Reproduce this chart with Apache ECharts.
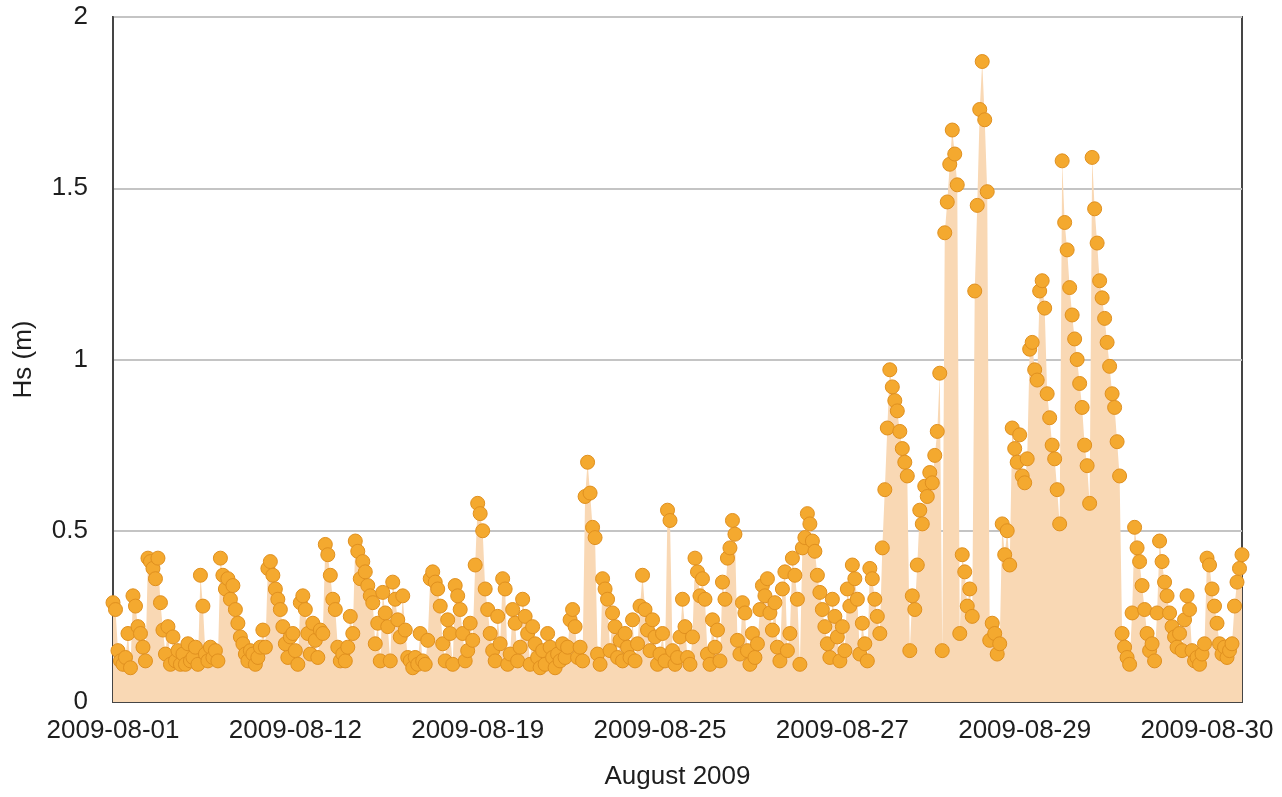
<!DOCTYPE html>
<html>
<head>
<meta charset="utf-8">
<title>Significant wave height, August 2009</title>
<script src="https://cdn.jsdelivr.net/npm/echarts@6/dist/echarts.min.js"></script>
<style>
  html, body { margin: 0; padding: 0; background: #ffffff; }
  #chart { width: 1282px; height: 797px; }
</style>
</head>
<body>
<div id="chart"></div>
<script>
// Date labels shown along the time axis (one every 73 samples)
const tickLabels = ['2009-08-01', '2009-08-12', '2009-08-19', '2009-08-25', '2009-08-27', '2009-08-29', '2009-08-30'];
const samplesPerLabel = 73;

// Significant wave height Hs (m), one value per sample
const hsValues = [
  0.29, 0.27, 0.15, 0.12, 0.11, 0.13, 0.20, 0.10, 0.31, 0.28, 0.22, 0.20,
  0.16, 0.12, 0.42, 0.41, 0.39, 0.36, 0.42, 0.29, 0.21, 0.14, 0.22, 0.11,
  0.19, 0.12, 0.15, 0.11, 0.14, 0.11, 0.17, 0.12, 0.13, 0.16, 0.11, 0.37,
  0.28, 0.14, 0.12, 0.16, 0.13, 0.15, 0.12, 0.42, 0.37, 0.33, 0.36, 0.30,
  0.34, 0.27, 0.23, 0.19, 0.17, 0.14, 0.12, 0.15, 0.14, 0.11, 0.13, 0.16,
  0.21, 0.16, 0.39, 0.41, 0.37, 0.33, 0.30, 0.27, 0.22, 0.17, 0.13, 0.19,
  0.20, 0.15, 0.11, 0.29, 0.31, 0.27, 0.20, 0.14, 0.23, 0.18, 0.13, 0.21,
  0.20, 0.46, 0.43, 0.37, 0.30, 0.27, 0.16, 0.12, 0.14, 0.12, 0.16, 0.25,
  0.20, 0.47, 0.44, 0.36, 0.41, 0.38, 0.34, 0.31, 0.29, 0.17, 0.23, 0.12,
  0.32, 0.26, 0.22, 0.12, 0.35, 0.30, 0.24, 0.19,
  0.31, 0.21, 0.13, 0.12, 0.10, 0.13, 0.11, 0.20, 0.12, 0.11, 0.18, 0.36,
  0.38, 0.35, 0.33, 0.28, 0.17, 0.12, 0.24, 0.20, 0.11, 0.34, 0.31, 0.27,
  0.20, 0.12, 0.15, 0.23, 0.18, 0.40, 0.58, 0.55, 0.50, 0.33, 0.27, 0.20,
  0.15, 0.12, 0.25, 0.17, 0.36, 0.33, 0.11, 0.14, 0.27, 0.23, 0.12, 0.16,
  0.30, 0.25, 0.20, 0.11, 0.22, 0.17, 0.13, 0.10, 0.15, 0.11, 0.20, 0.16,
  0.13, 0.10, 0.14, 0.12, 0.17, 0.13, 0.16, 0.24, 0.27, 0.22, 0.13, 0.16,
  0.12, 0.60, 0.70, 0.61, 0.51, 0.48, 0.14, 0.11, 0.36, 0.33, 0.30, 0.15,
  0.26, 0.22, 0.13, 0.18, 0.12, 0.20, 0.16, 0.13, 0.24, 0.12, 0.17, 0.28,
  0.37, 0.27, 0.21, 0.15, 0.24, 0.19, 0.11, 0.14, 0.20, 0.12, 0.56, 0.53,
  0.15, 0.11, 0.13, 0.19,
  0.30, 0.22, 0.13, 0.11, 0.19, 0.42, 0.38, 0.31, 0.36, 0.30, 0.14, 0.11,
  0.24, 0.16, 0.21, 0.12, 0.35, 0.30, 0.42, 0.45, 0.53, 0.49, 0.18, 0.14,
  0.29, 0.26, 0.15, 0.11, 0.20, 0.13, 0.17, 0.27, 0.34, 0.31, 0.36, 0.26,
  0.21, 0.29, 0.16, 0.12, 0.33, 0.38, 0.15, 0.20, 0.42, 0.37, 0.30, 0.11,
  0.45, 0.48, 0.55, 0.52, 0.47, 0.44, 0.37, 0.32, 0.27, 0.22, 0.17, 0.13,
  0.30, 0.25, 0.19, 0.12, 0.22, 0.15, 0.33, 0.28, 0.40, 0.36, 0.30, 0.14,
  0.23, 0.17, 0.12, 0.39, 0.36, 0.30, 0.25, 0.20, 0.45, 0.62, 0.80, 0.97,
  0.92, 0.88, 0.85, 0.79, 0.74, 0.70, 0.66, 0.15, 0.31, 0.27, 0.40, 0.56,
  0.52, 0.63, 0.60, 0.67, 0.64, 0.72, 0.79, 0.96, 0.15, 1.37, 1.46, 1.57,
  1.67, 1.60, 1.51, 0.20, 0.43, 0.38, 0.28, 0.33, 0.25, 1.20, 1.45, 1.73,
  1.87, 1.70, 1.49, 0.18, 0.23, 0.20, 0.14, 0.17,
  0.52, 0.43, 0.50, 0.40, 0.80, 0.74, 0.70, 0.78, 0.66, 0.64, 0.71, 1.03,
  1.05, 0.97, 0.94, 1.20, 1.23, 1.15, 0.90, 0.83, 0.75, 0.71, 0.62, 0.52,
  1.58, 1.40, 1.32, 1.21, 1.13, 1.06, 1.00, 0.93, 0.86, 0.75, 0.69, 0.58,
  1.59, 1.44, 1.34, 1.23, 1.18, 1.12, 1.05, 0.98, 0.90, 0.86, 0.76, 0.66,
  0.20, 0.16, 0.13, 0.11, 0.26, 0.51, 0.45, 0.41, 0.34, 0.27, 0.20, 0.15,
  0.17, 0.12, 0.26, 0.47, 0.41, 0.35, 0.31, 0.26, 0.22, 0.19, 0.16, 0.20,
  0.15, 0.24, 0.31, 0.27, 0.15, 0.12, 0.13, 0.11, 0.14, 0.17, 0.42, 0.40,
  0.33, 0.28, 0.23, 0.17, 0.14, 0.16, 0.13, 0.15, 0.17, 0.28, 0.35, 0.39,
  0.43
];

// Sample indices used as the category axis
const categories = hsValues.map((_, i) => String(i));

const FONT = "'Liberation Sans', Arial, Helvetica, sans-serif";
const TEXT = '#1e1e1e';

const chart = echarts.init(document.getElementById('chart'), null, { renderer: 'canvas' });

chart.setOption({
  animation: false,
  backgroundColor: '#ffffff',
  grid: {
    left: 113, right: 40, top: 17, bottom: 95,
    show: true, borderColor: '#454545', borderWidth: 2, backgroundColor: 'transparent'
  },
  xAxis: {
    type: 'category',
    data: categories,
    boundaryGap: false,
    name: 'August 2009',
    nameLocation: 'middle',
    nameGap: 62,
    nameTextStyle: { fontFamily: FONT, fontSize: 26, color: TEXT },
    axisLine: { show: true, lineStyle: { color: '#454545', width: 2 } },
    axisTick: { show: false },
    splitLine: { show: false },
    axisLabel: {
      interval: samplesPerLabel - 1,
      margin: 16,
      fontFamily: FONT, fontSize: 26, color: TEXT,
      formatter: (v, i) => tickLabels[i / samplesPerLabel] || ''
    }
  },
  yAxis: {
    type: 'value',
    min: 0, max: 2, interval: 0.5,
    name: 'Hs (m)',
    nameLocation: 'middle',
    nameRotate: 90,
    nameGap: 76,
    nameTextStyle: { fontFamily: FONT, fontSize: 26, color: TEXT },
    axisLine: { show: true, lineStyle: { color: '#454545', width: 2 } },
    axisTick: { show: false },
    splitLine: { show: true, lineStyle: { color: '#c4c4c4', width: 2 } },
    axisLabel: { margin: 25, fontFamily: FONT, fontSize: 26, color: TEXT }
  },
  series: [
    {
      type: 'line',
      data: hsValues,
      showSymbol: false,
      symbol: 'none',
      lineStyle: { width: 0, color: '#f9d8b4' },
      areaStyle: { color: '#f9d8b4', opacity: 1 },
      z: 1
    },
    {
      type: 'scatter',
      data: hsValues,
      symbol: 'circle',
      symbolSize: 14,
      itemStyle: { color: '#f4a92f', borderColor: '#e0901f', borderWidth: 1, opacity: 1 },
      z: 3
    }
  ]
});
</script>
</body>
</html>
